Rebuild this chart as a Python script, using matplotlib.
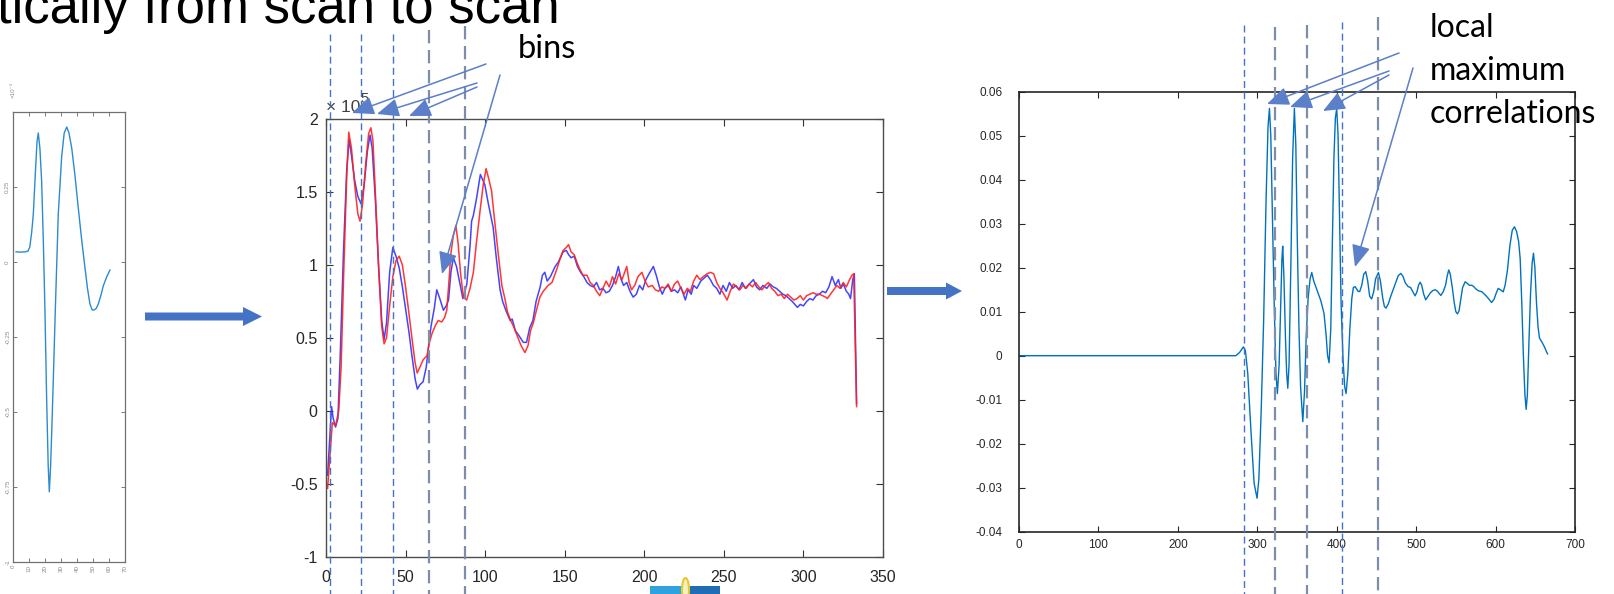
import matplotlib
matplotlib.use("Agg")
import matplotlib.pyplot as plt
from matplotlib.lines import Line2D
from matplotlib.patches import FancyArrow, Rectangle, Ellipse
from matplotlib.transforms import blended_transform_factory

plt.rcParams['font.family'] = ['Liberation Sans', 'DejaVu Sans']

# transmitted pulse (small left panel)
pulse_x = [1.9, 5, 8, 9.4, 10.5, 11.7, 12.7, 14, 15, 15.8, 16.8, 17.9, 19, 20, 21, 22,
           22.7, 23.5, 24.3, 25.2, 26.5, 28.3, 30.4, 32, 33.6, 35, 36.7, 38.7, 40.8, 43,
           45, 46.6, 48.1, 49.5, 50.6, 52, 53.3, 55, 56.4, 58.5, 60.6]
pulse_y = [0.034, 0.033, 0.034, 0.037, 0.05, 0.1, 0.16, 0.3, 0.4, 0.43, 0.38, 0.27, 0.06,
           -0.17, -0.45, -0.68, -0.766, -0.68, -0.55, -0.39, -0.15, 0.16, 0.35, 0.43, 0.45,
           0.43, 0.38, 0.29, 0.18, 0.07, -0.02, -0.09, -0.14, -0.16, -0.16, -0.155, -0.14,
           -0.11, -0.08, -0.05, -0.027]
pulse_xticks = [0, 10, 20, 30, 40, 50, 60, 70]
pulse_yticks = [-1, -0.75, -0.5, -0.25, 0, 0.25]

# two scans (x1e5), middle panel
scan_a_x = [1, 2, 3.5, 4.5, 6, 7.5, 9, 11, 13, 14.5, 16, 18, 20, 22, 24, 26, 27.7, 29, 31, 33,
            35, 36.5, 38, 40, 42, 44, 46, 48, 50, 52, 54, 56, 57.4, 59, 61, 63, 64.5, 66, 68,
            69.6, 71.5, 73.8, 75.5, 77, 78.5, 80, 82, 84, 86, 88.5, 90.5, 91.5, 92.6, 94.5, 97,
            99.8, 102, 105, 107, 109.4, 111, 113, 115.7, 117, 119, 121, 124, 126, 128, 130,
            132, 134.6, 136, 137.5, 139, 141, 144, 146, 149, 151, 152.5, 154, 156, 158, 160,
            162, 164, 166, 168, 170, 172, 174, 176, 178, 180, 182, 183.7, 185.5, 187, 189,
            191, 193, 195, 197, 199, 201, 203, 205.7, 207.5, 209.5, 211.3, 213, 215, 217, 219,
            221, 223, 225.8, 227.5, 229.5, 231, 233, 235.5, 237.5, 239.6, 241.5, 243.5, 245.5,
            247.5, 249.5, 251.5, 253.5, 255.5, 257.5, 259.5, 261.5, 263.5, 266, 268.6, 270.5,
            272.5, 274.5, 277, 279, 281, 283, 285, 287, 289, 291, 293, 296.2, 298, 300, 302,
            304, 306, 308, 310, 312, 314, 316, 318, 320, 322, 323.5, 325, 327, 328.5, 329.6,
            331, 332, 333.4]
scan_a_y = [-0.44, -0.25, 0.03, -0.05, -0.11, -0.05, 0.4, 1.1, 1.65, 1.86, 1.75, 1.58, 1.47,
            1.42, 1.55, 1.78, 1.89, 1.8, 1.45, 1.0, 0.62, 0.49, 0.6, 0.95, 1.12, 1.06, 0.98,
            0.85, 0.7, 0.55, 0.38, 0.22, 0.15, 0.18, 0.2, 0.3, 0.45, 0.58, 0.7, 0.83, 0.77,
            0.69, 0.72, 0.76, 0.95, 1.05, 0.99, 0.88, 0.77, 0.87, 1.13, 1.3, 1.34, 1.45, 1.62,
            1.55, 1.42, 1.26, 1.05, 0.83, 0.75, 0.69, 0.62, 0.63, 0.55, 0.52, 0.47, 0.47, 0.57,
            0.62, 0.75, 0.85, 0.93, 0.95, 0.89, 0.92, 0.99, 1.02, 1.09, 1.10, 1.07, 1.05, 1.06,
            0.99, 0.95, 0.92, 0.88, 0.86, 0.85, 0.88, 0.83, 0.84, 0.81, 0.82, 0.86, 0.92, 0.99,
            0.90, 0.86, 0.88, 0.82, 0.78, 0.80, 0.86, 0.83, 0.90, 0.94, 0.99, 0.93, 0.85, 0.80,
            0.84, 0.86, 0.82, 0.83, 0.81, 0.85, 0.76, 0.83, 0.80, 0.86, 0.84, 0.89, 0.91, 0.93,
            0.90, 0.86, 0.84, 0.80, 0.86, 0.82, 0.88, 0.84, 0.86, 0.83, 0.88, 0.84, 0.87, 0.90,
            0.85, 0.83, 0.86, 0.84, 0.87, 0.85, 0.84, 0.82, 0.80, 0.79, 0.77, 0.75, 0.71, 0.73,
            0.72, 0.75, 0.77, 0.76, 0.79, 0.80, 0.82, 0.81, 0.85, 0.92, 0.86, 0.90, 0.84, 0.87,
            0.82, 0.80, 0.77, 0.90, 0.94, 0.05]

scan_b_x = [1, 2.5, 4, 6, 8, 9.5, 11, 13, 14.3, 16, 18, 20, 21.4, 23, 25, 26.8, 28.2, 29.5, 31,
            33, 35, 36.5, 38, 40, 42, 44, 46, 48, 50, 52, 54, 56, 57.3, 59, 61, 63.5, 65, 66.6,
            68.5, 70.5, 72.7, 74.5, 75.9, 77, 78.5, 80, 81.6, 83, 84.5, 86.3, 88.4, 90.5, 92.6,
            94.5, 96.9, 98.8, 100.6, 102.5, 104, 106, 108.4, 110.5, 112.6, 114, 116, 117.8, 120,
            122.5, 125, 127, 128.5, 130.2, 132, 134.4, 136.5, 139.6, 142, 145, 147, 149, 151,
            152.4, 154, 156, 157.6, 159.5, 161.5, 164, 166, 168, 170, 172, 174, 176, 178, 180,
            182, 184, 186, 188, 189, 190.5, 192, 194, 196, 198.5, 200.5, 202.5, 205, 207, 209,
            211, 213, 215, 217, 219, 221, 223, 225, 227, 229, 231, 233, 235, 237, 239.5, 241.5,
            243.6, 245.5, 247.5, 249.5, 252, 254, 256, 258, 260, 262, 264, 266, 268, 270, 272,
            274, 276, 278, 280, 282, 284, 286, 288, 290, 292, 294, 296, 298, 300, 302, 304, 306,
            308, 310, 312, 314, 315, 317, 319, 321, 323, 325, 327, 329, 330.5, 331.6, 333.4]
scan_b_y = [-0.53, -0.3, -0.08, -0.1, 0.0, 0.3, 0.9, 1.6, 1.91, 1.8, 1.55, 1.35, 1.30, 1.42,
            1.7, 1.9, 1.94, 1.85, 1.5, 1.0, 0.58, 0.46, 0.5, 0.72, 0.92, 1.03, 1.06, 1.0, 0.85,
            0.68, 0.5, 0.33, 0.26, 0.3, 0.35, 0.38, 0.47, 0.53, 0.58, 0.62, 0.61, 0.64, 0.69,
            0.85, 1.08, 1.2, 1.27, 1.15, 0.95, 0.78, 0.76, 0.84, 0.95, 1.15, 1.38, 1.55, 1.66,
            1.58, 1.51, 1.3, 1.06, 0.86, 0.76, 0.68, 0.62, 0.58, 0.52, 0.45, 0.40, 0.45, 0.55,
            0.6, 0.68, 0.78, 0.82, 0.86, 0.88, 0.97, 1.04, 1.10, 1.12, 1.14, 1.09, 1.07, 1.02,
            0.97, 0.93, 0.93, 0.88, 0.86, 0.82, 0.79, 0.84, 0.89, 0.85, 0.92, 0.87, 0.94, 0.90,
            0.96, 0.99, 0.88, 0.83, 0.86, 0.92, 0.95, 0.89, 0.85, 0.86, 0.83, 0.82, 0.85, 0.84,
            0.87, 0.82, 0.87, 0.89, 0.84, 0.80, 0.84, 0.82, 0.89, 0.93, 0.90, 0.92, 0.94, 0.95,
            0.94, 0.88, 0.84, 0.81, 0.76, 0.82, 0.87, 0.85, 0.83, 0.86, 0.84, 0.87, 0.85, 0.88,
            0.85, 0.83, 0.86, 0.88, 0.84, 0.82, 0.79, 0.80, 0.77, 0.80, 0.78, 0.76, 0.77, 0.79,
            0.76, 0.79, 0.80, 0.81, 0.80, 0.80, 0.79, 0.78, 0.77, 0.80, 0.83, 0.86, 0.84, 0.88,
            0.85, 0.90, 0.93, 0.94, 0.03]
scan_xticks = [0, 50, 100, 150, 200, 250, 300, 350]
scan_yticks = [-1, -0.5, 0, 0.5, 1, 1.5, 2]
scan_ylabels = ['-1', '-0.5', '0', '0.5', '1', '1.5', '2']
scan_bins = [2.5, 22, 42.1, 64.8, 87.4]

# cross-correlation, right panel
corr_x = [0, 273, 278, 282.5, 285, 288, 292, 296, 299.7, 302, 305, 308, 311, 313.5, 315.3,
          317, 319, 321.5, 323.5, 325.3, 327.5, 329.5, 331, 332, 333.5, 335.5, 337, 338.4, 340,
          342, 344.5, 346.7, 348.5, 350.5, 352.5, 354.5, 357.3, 359.5, 361.5, 364, 366.5,
          368.6, 371, 375, 380, 384, 386.5, 388.5, 390.4, 392.5, 394.5, 396.5, 398.3, 400,
          401.7, 403.5, 405.5, 408, 410, 411.8, 414, 416.5, 419, 421, 423, 425, 427, 429,
          431.5, 434, 436.6, 439, 441.5, 444, 446.5, 449, 452.5, 455, 458, 460, 462, 465, 468,
          471, 474.5, 477.5, 480.7, 483.5, 486.5, 490, 493, 496, 498.6, 501, 503, 505, 507,
          509.5, 512, 515, 518, 521, 524, 527, 531, 534, 537, 539, 541, 543, 545.5, 548, 550,
          552, 554, 556, 558.5, 561.7, 564, 567, 570, 572, 575, 578, 583, 587, 591, 595, 598,
          601, 603.3, 606, 609.6, 612, 615, 618, 621, 623.8, 626.5, 629, 631, 633, 635, 637,
          638.5, 640, 642, 644, 646, 647.7, 649.5, 651.5, 653.5, 655.3, 658, 661, 665.4]
corr_y = [0.0, 0.0, 0.0008, 0.002, 0.0012, -0.004, -0.017, -0.029, -0.0324, -0.028, -0.012,
          0.008, 0.035, 0.052, 0.0562, 0.05, 0.032, 0.01, -0.004, -0.0086, -0.002, 0.012, 0.022,
          0.0249, 0.018, 0.004, -0.004, -0.0074, -0.002, 0.018, 0.045, 0.0562, 0.048, 0.025,
          0.006, -0.007, -0.015, -0.008, 0.004, 0.013, 0.0175, 0.0189, 0.017, 0.015, 0.0125,
          0.0096, 0.005, 0.0, -0.0016, 0.006, 0.025, 0.045, 0.054, 0.0562, 0.05, 0.032, 0.012,
          -0.001, -0.007, -0.0086, -0.004, 0.006, 0.013, 0.0155, 0.0157, 0.0152, 0.0146,
          0.0146, 0.016, 0.0185, 0.0191, 0.017, 0.0135, 0.0129, 0.0145, 0.0175, 0.0189, 0.017,
          0.013, 0.0112, 0.0108, 0.0118, 0.0135, 0.015, 0.0168, 0.0182, 0.0187, 0.018, 0.0165,
          0.0157, 0.0155, 0.0145, 0.0136, 0.0145, 0.016, 0.0167, 0.016, 0.014, 0.0127, 0.0135,
          0.0143, 0.0148, 0.015, 0.0146, 0.0137, 0.0145, 0.016, 0.018, 0.0195, 0.0185, 0.0155,
          0.012, 0.0100, 0.0095, 0.0102, 0.0125, 0.0155, 0.0168, 0.0165, 0.0160, 0.0160,
          0.0158, 0.0152, 0.0148, 0.0145, 0.0138, 0.013, 0.0121, 0.0128, 0.0143, 0.0153, 0.015,
          0.0145, 0.016, 0.0195, 0.025, 0.0285, 0.0293, 0.0282, 0.026, 0.022, 0.012, 0.0,
          -0.009, -0.0122, -0.009, 0.003, 0.014, 0.021, 0.0233, 0.02, 0.012, 0.0065, 0.004,
          0.0032, 0.0022, 0.0004]
corr_xticks = [0, 100, 200, 300, 400, 500, 600, 700]
corr_yticks = [-0.04, -0.03, -0.02, -0.01, 0, 0.01, 0.02, 0.03, 0.04, 0.05, 0.06]
corr_ylabels = ['-0.04', '-0.03', '-0.02', '-0.01', '0', '0.01', '0.02', '0.03', '0.04',
                '0.05', '0.06']
corr_bins = [283.4, 322.4, 362.3, 407.2, 451.8]

W, H = 1614, 594
fig = plt.figure(figsize=(W / 100, H / 100), dpi=100)
fig.patch.set_facecolor('white')


def add_px_axes(x0, y0, x1, y1):
    return fig.add_axes([x0 / W, 1 - y1 / H, (x1 - x0) / W, (y1 - y0) / H])


def style_box(ax, color, lw):
    for sp in ax.spines.values():
        sp.set_color(color)
        sp.set_linewidth(lw)


# small pulse panel
axl = add_px_axes(13, 112, 125, 562)
axl.plot(pulse_x, pulse_y, color='#2A8BD0', lw=1.0)
axl.set_xlim(0, 70)
axl.set_ylim(-1, 0.5)
axl.set_xticks(pulse_xticks)
axl.set_xticklabels([str(v) for v in pulse_xticks], rotation=90)
axl.set_yticks(pulse_yticks)
axl.set_yticklabels([str(v) for v in pulse_yticks], rotation=90, va='center')
axl.tick_params(direction='in', top=True, right=True, length=3, width=0.6,
                color='#666666', labelsize=4.5, labelcolor='#8a8a8a', pad=2)
style_box(axl, '#707070', 0.9)
axl.text(0.02, 1.03, '×10⁻³', transform=axl.transAxes, rotation=90, fontsize=4.5,
         color='#8a8a8a', ha='right', va='bottom')

# scans panel
axm = add_px_axes(326, 119, 883, 557)
axm.plot(scan_a_x, scan_a_y, color='#3030FF', lw=1.1, alpha=0.9)
axm.plot(scan_b_x, scan_b_y, color='#FF2020', lw=1.1, alpha=0.9)
axm.set_xlim(0, 350)
axm.set_ylim(-1, 2)
axm.set_xticks(scan_xticks)
axm.set_yticks(scan_yticks)
axm.set_yticklabels(scan_ylabels)
axm.tick_params(direction='in', top=True, right=True, length=5, width=0.8,
                color='#333333', labelsize=11.5, labelcolor='#262626')
axm.tick_params(axis='x', pad=9)
axm.tick_params(axis='y', pad=6)
style_box(axm, '#4d4d4d', 1.0)
axm.text(0.0, 1.008, '× 10', transform=axm.transAxes, fontsize=12.5, color='#404040',
         ha='left', va='bottom')
axm.text(0.062, 1.03, '5', transform=axm.transAxes, fontsize=10.5, color='#404040',
         ha='left', va='bottom')

# correlation panel
axr = add_px_axes(1019, 91.7, 1575, 531.7)
axr.plot(corr_x, corr_y, color='#0072BD', lw=1.0)
axr.set_xlim(0, 700)
axr.set_ylim(-0.04, 0.06)
axr.set_xticks(corr_xticks)
axr.set_yticks(corr_yticks)
axr.set_yticklabels(corr_ylabels)
axr.tick_params(direction='in', top=True, right=True, length=4, width=0.8,
                color='#262626', labelsize=8.5, labelcolor='#262626')
axr.tick_params(axis='y', pad=12)
axr.tick_params(axis='x', pad=5)
style_box(axr, '#262626', 1.2)

# annotation layer in pixel units
ov = fig.add_axes([0, 0, 1, 1], zorder=10)
ov.set_xlim(0, W)
ov.set_ylim(H, 0)
ov.axis('off')
ov.patch.set_alpha(0)

blue_dash = dict(color='#4472C4', lw=1.0, dashes=(5, 3))
gray_dash = dict(color='#7F8EA8', lw=1.6, dashes=(6, 3))

mid_styles = [blue_dash, blue_dash, blue_dash, gray_dash, gray_dash]
mid_tops = [34, 34, 34, 30, 26]
trans_m = blended_transform_factory(axm.transData, ov.transData)
for xb, st, top in zip(scan_bins, mid_styles, mid_tops):
    ov.add_line(Line2D([xb, xb], [top, H], transform=trans_m, clip_on=False, **st))

right_styles = [blue_dash, gray_dash, gray_dash, blue_dash, gray_dash]
right_tops = [25, 27, 25, 22, 17]
trans_r = blended_transform_factory(axr.transData, ov.transData)
for xb, st, top in zip(corr_bins, right_styles, right_tops):
    ov.add_line(Line2D([xb, xb], [top, H], transform=trans_r, clip_on=False, **st))

arrow_props = dict(arrowstyle='-|>,head_length=0.9,head_width=0.38', color='#5B7FC9',
                   lw=1.1, mutation_scale=15, shrinkA=0, shrinkB=0)
bins_arrows = [((486, 64), (352, 113)), ((477, 83), (377, 114)),
               ((477, 87), (409, 116)), ((500, 75), (442, 274))]
for start, tip in bins_arrows:
    ov.annotate('', xy=tip, xytext=start, arrowprops=arrow_props)

peak_arrows = [((1399, 53), (1267, 104)), ((1389, 71), (1290, 107)),
               ((1389, 75), (1323, 111)), ((1413, 68), (1355, 267))]
for start, tip in peak_arrows:
    ov.annotate('', xy=tip, xytext=start, arrowprops=arrow_props)

ov.text(518, 58, 'bins', fontsize=23.5, family=['Lato', 'DejaVu Sans'], color='black',
        va='baseline', ha='left')
for label, base in zip(['local', 'maximum', 'correlations'], [37, 80, 123]):
    ov.text(1430, base, label, fontsize=23, family=['Lato', 'DejaVu Sans'],
            color='black', va='baseline', ha='left')

ov.text(-3, 23, 'tically from scan to scan', fontsize=38, color='black',
        va='baseline', ha='left')

# block arrows between the panels
ov.add_patch(FancyArrow(145, 316.5, 117, 0, width=8, head_width=19, head_length=19,
                        length_includes_head=True, color='#4472C4', lw=0))
ov.add_patch(FancyArrow(887, 291, 75, 0, width=8, head_width=17, head_length=16,
                        length_includes_head=True, color='#4472C4', lw=0))

# clipped icon at the bottom edge
ov.add_patch(Rectangle((650, 586), 34, 10, color='#2EA3E0', lw=0))
ov.add_patch(Rectangle((684, 586), 36, 10, color='#1F6DB5', lw=0))
ov.add_patch(Ellipse((685.5, 590), 7, 24, facecolor='#F5F0C0', edgecolor='#E8C830', lw=1.5))

fig.savefig('out.png', dpi=100)
